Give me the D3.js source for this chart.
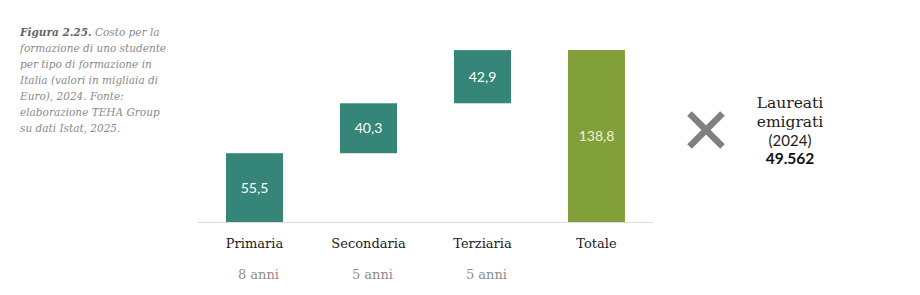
<!DOCTYPE html>
<html><head><meta charset="utf-8">
<script src="https://cdn.jsdelivr.net/npm/d3@7"></script>
<style>
body{margin:0;background:#fff;}
</style></head>
<body><svg id="c" width="920" height="295"></svg>
<script>
const categories = ["Primaria","Secondaria","Terziaria","Totale"];
const values = [55.5, 40.3, 42.9, 138.8];
const durations = ["8 anni","5 anni","5 anni",""];
const valueLabels = ["55,5","40,3","42,9","138,8"];
const captionLines = ["formazione di uno studente","per tipo di formazione in","Italia (valori in migliaia di","Euro), 2024. Fonte:","elaborazione TEHA Group","su dati Istat, 2025."];
const sideLines = ["Laureati","emigrati","(2024)"];
const sideValue = "49.562";

const svg = d3.select("#c");
const serif = "'DejaVu Serif', serif";
const sans = "Lato, 'Open Sans', sans-serif";

const x = d3.scaleBand().domain(categories).range([197.5, 653.5]).paddingInner(0.5).paddingOuter(0.25);
const y = d3.scaleLinear().domain([0, 138.8]).range([222, 50]);

// waterfall start/end
let cum = 0;
const bars = categories.map((c,i)=>{
  const isTotal = i === categories.length-1;
  const start = isTotal ? 0 : cum;
  const end = isTotal ? values[i] : cum + values[i];
  if(!isTotal) cum = end;
  return {c, v: values[i], start, end, isTotal, label: valueLabels[i], dur: durations[i]};
});

// baseline
svg.append("line").attr("x1",197.5).attr("x2",653.5).attr("y1",y(0)+0.5).attr("y2",y(0)+0.5)
  .attr("stroke","#dcdcdc").attr("stroke-width",1.2);

svg.selectAll("rect.bar").data(bars).join("rect").attr("class","bar")
  .attr("x",d=>x(d.c)).attr("width",x.bandwidth())
  .attr("y",d=>y(d.end)).attr("height",d=>y(d.start)-y(d.end))
  .attr("fill",d=>d.isTotal?"#82a03a":"#358579");

svg.selectAll("text.val").data(bars).join("text").attr("class","val")
  .attr("x",d=>x(d.c)+x.bandwidth()/2).attr("y",d=>(y(d.start)+y(d.end))/2)
  .attr("dy","0.36em").attr("text-anchor","middle")
  .attr("font-family",sans).attr("font-size",14)
  .attr("fill",d=>d.isTotal?"#f3f1d6":"#ffffff").text(d=>d.label);

svg.selectAll("text.cat").data(bars).join("text").attr("class","cat")
  .attr("x",d=>x(d.c)+x.bandwidth()/2).attr("y",248)
  .attr("text-anchor","middle").attr("font-family",serif).attr("font-size",13)
  .attr("fill","#1a1a1a").text(d=>d.c);

svg.selectAll("text.dur").data(bars.filter(d=>d.dur)).join("text").attr("class","dur")
  .attr("x",d=>x(d.c)+x.bandwidth()/2+4).attr("y",279)
  .attr("text-anchor","middle").attr("font-family",serif).attr("font-size",13)
  .attr("fill","#8c8c8c").text(d=>d.dur);

// caption
const cap = svg.append("g").attr("font-family",serif).attr("font-style","italic").attr("font-size",10.5).attr("fill","#8a8a8a");
const t0 = cap.append("text").attr("x",20).attr("y",36);
t0.append("tspan").attr("font-weight","bold").attr("fill","#666").text("Figura 2.25.");
t0.append("tspan").text(" Costo per la");
captionLines.forEach((l,i)=>cap.append("text").attr("x",20).attr("y",52+i*16).text(l));

// X icon
const cx=706, cy=130, r=16.5;
const xg = svg.append("g").attr("stroke","#808080").attr("stroke-width",6.5);
xg.append("line").attr("x1",cx-r).attr("y1",cy-r).attr("x2",cx+r).attr("y2",cy+r);
xg.append("line").attr("x1",cx-r).attr("y1",cy+r).attr("x2",cx+r).attr("y2",cy-r);

// side text
const sideY = [108, 127, 146];
sideLines.forEach((l,i)=>svg.append("text").attr("x",790).attr("y",sideY[i])
  .attr("text-anchor","middle").attr("font-family", i<2?serif:sans).attr("font-size",i<2?15.5:15).attr("fill","#222").text(l));
svg.append("text").attr("x",790).attr("y",164).attr("text-anchor","middle").attr("font-family",sans)
  .attr("font-weight","bold").attr("font-size",15.5).attr("fill","#111").text(sideValue);
</script></body></html>
